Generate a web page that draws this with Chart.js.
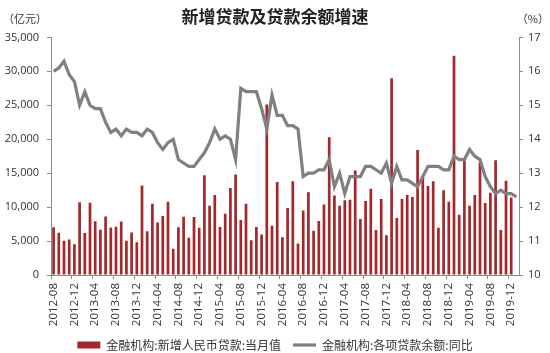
<!DOCTYPE html>
<html>
<head>
<meta charset="utf-8">
<script src="https://cdn.jsdelivr.net/npm/chart.js@4.4.1/dist/chart.umd.min.js"></script>
<style>
    html, body { margin: 0; padding: 0; background: #fff; }
</style>
</head>
<body>
<canvas id="loanChart" width="550" height="353"></canvas>
<script>
// months, 2012-08 .. 2020-01
const months = [
    '2012-08', '2012-09', '2012-10', '2012-11', '2012-12',
    '2013-01', '2013-02', '2013-03', '2013-04', '2013-05', '2013-06', '2013-07', '2013-08', '2013-09', '2013-10', '2013-11', '2013-12',
    '2014-01', '2014-02', '2014-03', '2014-04', '2014-05', '2014-06', '2014-07', '2014-08', '2014-09', '2014-10', '2014-11', '2014-12',
    '2015-01', '2015-02', '2015-03', '2015-04', '2015-05', '2015-06', '2015-07', '2015-08', '2015-09', '2015-10', '2015-11', '2015-12',
    '2016-01', '2016-02', '2016-03', '2016-04', '2016-05', '2016-06', '2016-07', '2016-08', '2016-09', '2016-10', '2016-11', '2016-12',
    '2017-01', '2017-02', '2017-03', '2017-04', '2017-05', '2017-06', '2017-07', '2017-08', '2017-09', '2017-10', '2017-11', '2017-12',
    '2018-01', '2018-02', '2018-03', '2018-04', '2018-05', '2018-06', '2018-07', '2018-08', '2018-09', '2018-10', '2018-11', '2018-12',
    '2019-01', '2019-02', '2019-03', '2019-04', '2019-05', '2019-06', '2019-07', '2019-08', '2019-09', '2019-10', '2019-11', '2019-12',
    '2020-01'
];

// 金融机构:新增人民币贷款:当月值 (亿元)
const newLoans = [
    7039, 6232, 5052, 5229, 4543,
    10721, 6200, 10625, 7929, 6674, 8605, 6999, 7113, 7870, 5061, 6246, 4825,
    13198, 6445, 10481, 7747, 8708, 10790, 3852, 7025, 8572, 5483, 8527, 6973,
    14708, 10200, 11800, 7079, 9008, 12800, 14800, 8096, 10500, 5136, 7089, 5978,
    25100, 7266, 13700, 5556, 9855, 13800, 4636, 9487, 12200, 6513, 7946, 10400,
    20300, 11700, 10200, 11000, 11100, 15400, 8255, 10900, 12700, 6632, 11200, 5844,
    29000, 8393, 11200, 11800, 11500, 18400, 14500, 13100, 13800, 6970, 12500, 10800,
    32300, 8858, 16900, 10200, 11800, 16600, 10600, 12100, 16900, 6613, 13900, 11400,
    null
];

// 金融机构:各项贷款余额:同比 (%)
const loanGrowth = [
    16.0, 16.1, 16.3, 15.9, 15.7,
    15.0, 15.4, 15.0, 14.9, 14.9, 14.5, 14.2, 14.3, 14.1, 14.3, 14.2, 14.2,
    14.1, 14.3, 14.2, 13.9, 13.7, 13.9, 14.0, 13.4, 13.3, 13.2, 13.2, 13.4,
    13.6, 13.9, 14.3, 14.0, 14.1, 14.0, 13.4, 15.5, 15.4, 15.4, 15.4, 14.9,
    14.3, 15.3, 14.7, 14.7, 14.4, 14.4, 14.3, 12.9, 13.0, 13.0, 13.1, 13.1,
    13.4, 12.6, 13.0, 12.4, 12.9, 12.9, 12.9, 13.2, 13.2, 13.1, 13.0, 13.3,
    12.7, 13.2, 12.8, 12.8, 12.7, 12.6, 12.9, 13.2, 13.2, 13.2, 13.1, 13.1,
    13.5, 13.4, 13.4, 13.7, 13.5, 13.4, 12.9, 12.6, 12.4, 12.5, 12.4, 12.4,
    12.3
];

const loanTicksLeft = [0, 5000, 10000, 15000, 20000, 25000, 30000, 35000];
const growthTicksRight = [10, 11, 12, 13, 14, 15, 16, 17];

const axisGray = '#8c8c8c';
const textColor = '#333333';
const cjkFont = '"Noto Sans CJK SC", sans-serif';

Chart.defaults.font.family = '"Open Sans", sans-serif';
Chart.defaults.color = textColor;

// unit captions above the two value axes
const unitCaptions = {
    id: 'unitCaptions',
    afterDraw(chart) {
        const ctx = chart.ctx;
        ctx.save();
        ctx.font = '11px ' + cjkFont;
        ctx.fillStyle = textColor;
        ctx.textBaseline = 'middle';
        ctx.textAlign = 'left';
        ctx.fillText('（亿元）', 3, 19);
        ctx.textAlign = 'right';
        ctx.fillText('（%）', 549, 19);
        ctx.restore();
    }
};

new Chart(document.getElementById('loanChart'), {
    data: {
        labels: months,
        datasets: [{
            type: 'bar',
            label: '金融机构:新增人民币贷款:当月值',
            data: newLoans,
            yAxisID: 'y',
            backgroundColor: '#a3272b',
            borderWidth: 0,
            barPercentage: 0.52,
            categoryPercentage: 1,
            pointStyle: 'rect',
            order: 2
        }, {
            type: 'line',
            label: '金融机构:各项贷款余额:同比',
            data: loanGrowth,
            yAxisID: 'y1',
            borderColor: '#808080',
            backgroundColor: '#808080',
            borderWidth: 3.2,
            pointRadius: 0,
            pointHoverRadius: 0,
            pointStyle: 'line',
            tension: 0,
            order: 1
        }]
    },
    options: {
        responsive: false,
        animation: false,
        layout: {
            padding: 0
        },
        plugins: {
            title: {
                display: true,
                text: '新增贷款及贷款余额增速',
                color: '#222222',
                font: { family: cjkFont, size: 17, weight: 'bold', lineHeight: 1.2 },
                padding: { top: 6, bottom: 11 }
            },
            legend: {
                position: 'bottom',
                maxHeight: 26,
                labels: {
                    sort: (a, b) => a.datasetIndex - b.datasetIndex,
                    usePointStyle: true,
                    pointStyleWidth: 23,
                    boxHeight: 7,
                    padding: 12,
                    color: textColor,
                    font: { family: cjkFont, size: 12 }
                }
            },
            tooltip: { enabled: false }
        },
        scales: {
            x: {
                offset: true,
                grid: {
                    offset: true,
                    drawOnChartArea: false,
                    drawTicks: true,
                    tickLength: 4,
                    color: ctx => ctx.index % 4 === 0 ? axisGray : 'rgba(0,0,0,0)'
                },
                border: { color: axisGray, width: 1 },
                ticks: {
                    autoSkip: false,
                    maxRotation: 90,
                    minRotation: 90,
                    padding: 4,
                    font: { size: 11.5 },
                    callback(value, index) {
                        return index % 4 === 0 ? this.getLabelForValue(value) : '';
                    }
                },
                afterFit(scale) { scale.height = 52; }
            },
            y: {
                position: 'left',
                min: 0,
                max: 35000,
                afterBuildTicks(scale) {
                    scale.ticks = loanTicksLeft.map(v => ({ value: v }));
                },
                ticks: {
                    padding: 8,
                    font: { size: 11 },
                    callback: v => v.toLocaleString('en-US')
                },
                grid: {
                    drawOnChartArea: false,
                    drawTicks: true,
                    tickLength: 4,
                    color: axisGray
                },
                border: { color: axisGray, width: 1 },
                afterFit(scale) { scale.width = 51; }
            },
            y1: {
                position: 'right',
                min: 10,
                max: 17,
                afterBuildTicks(scale) {
                    scale.ticks = growthTicksRight.map(v => ({ value: v }));
                },
                ticks: {
                    padding: 5,
                    font: { size: 11 }
                },
                grid: {
                    drawOnChartArea: false,
                    drawTicks: true,
                    tickLength: 4,
                    color: axisGray
                },
                border: { color: axisGray, width: 1 },
                afterFit(scale) { scale.width = 31; }
            }
        }
    },
    plugins: [unitCaptions]
});
</script>
</body>
</html>
